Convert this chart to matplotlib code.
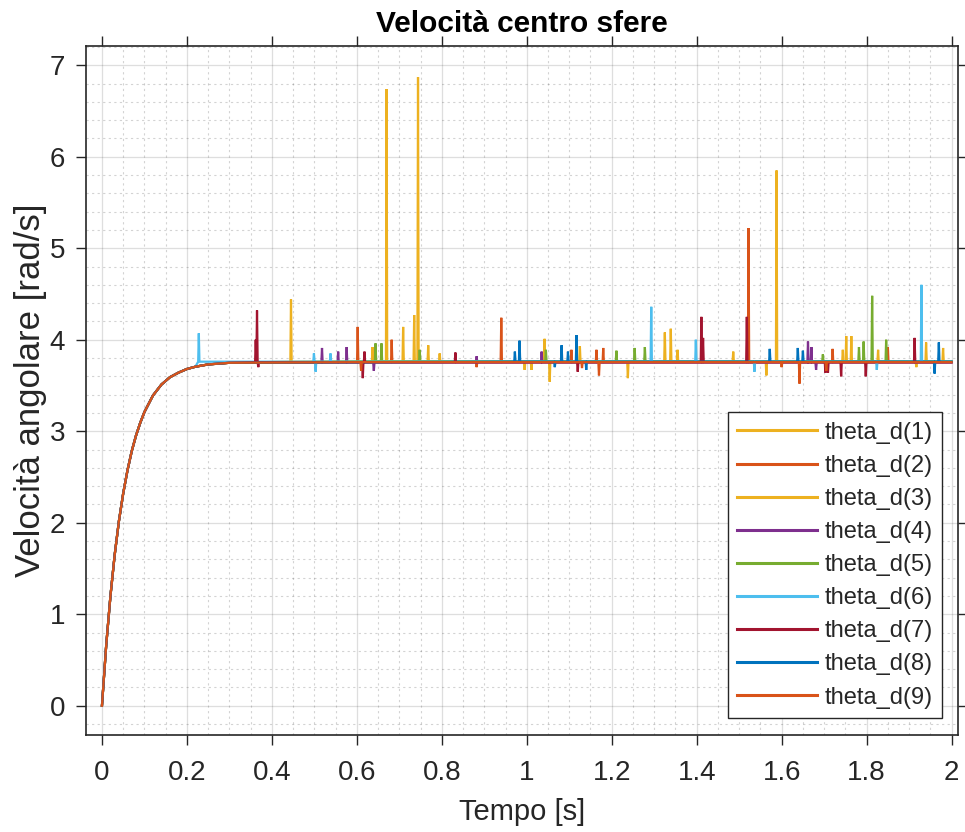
import matplotlib
matplotlib.use("Agg")
import matplotlib.pyplot as plt
from matplotlib.ticker import MultipleLocator

plt.rcParams['font.family'] = ['Liberation Sans', 'DejaVu Sans']

# Start-up transient shared by every sphere (time [s], angular velocity [rad/s])
rise_t = [0.0, 0.01, 0.02, 0.03, 0.04, 0.05, 0.06, 0.07, 0.08, 0.09, 0.10,
          0.12, 0.14, 0.16, 0.18, 0.20, 0.22, 0.25, 0.30]
rise_v = [0.0, 0.66, 1.20, 1.65, 2.02, 2.32, 2.57, 2.78, 2.95, 3.09, 3.21,
          3.39, 3.51, 3.59, 3.64, 3.68, 3.705, 3.73, 3.748]
t_end = 2.0

# Steady-state level of each sphere
plateau = [3.760, 3.755, 3.760, 3.750, 3.765, 3.760, 3.755, 3.760, 3.755]

# Isolated numerical spikes of each sphere: times and peak values
s1_t = [0.637, 0.670, 0.709, 0.795, 0.995, 1.054, 1.325, 1.486, 1.588, 1.744, 1.764, 1.917, 1.980]
s1_v = [3.92, 6.74, 4.14, 3.85, 3.67, 3.54, 4.08, 3.87, 5.85, 3.89, 4.04, 3.70, 3.91]
s2_t = [0.602, 0.682, 0.882, 0.940, 1.105, 1.164, 1.180, 1.522, 1.720, 1.850]
s2_v = [4.14, 4.00, 3.70, 4.24, 3.89, 3.89, 3.91, 5.22, 3.90, 3.92]
s3_t = [0.445, 0.735, 0.744, 0.768, 1.011, 1.042, 1.125, 1.238, 1.339, 1.355, 1.564, 1.752, 1.827, 1.940]
s3_v = [4.44, 4.27, 6.87, 3.94, 3.67, 4.01, 3.93, 3.58, 4.12, 3.89, 3.61, 4.04, 3.89, 3.97]
s4_t = [0.518, 0.556, 0.576, 0.640, 0.882, 1.035, 1.662, 1.670, 1.681]
s4_v = [3.91, 3.87, 3.92, 3.66, 3.82, 3.87, 3.98, 3.92, 3.67]
s5_t = [0.644, 0.658, 0.748, 1.045, 1.211, 1.254, 1.278, 1.697, 1.782, 1.793, 1.813, 1.846]
s5_v = [3.96, 3.96, 3.89, 3.89, 3.88, 3.91, 3.92, 3.84, 3.92, 3.98, 4.48, 4.00]
s6_t = [0.228, 0.499, 0.503, 0.538, 1.293, 1.398, 1.536, 1.824, 1.929]
s6_v = [4.07, 3.85, 3.65, 3.85, 4.36, 4.00, 3.65, 3.67, 4.60]
s7_t = [0.362, 0.365, 0.368, 0.614, 0.618, 0.832, 1.120, 1.411, 1.415, 1.518, 1.703, 1.709, 1.740, 1.798, 1.913]
s7_v = [4.00, 4.32, 3.70, 3.58, 3.87, 3.86, 3.65, 4.25, 4.02, 4.25, 3.64, 3.64, 3.60, 3.60, 4.02]
s8_t = [0.972, 0.983, 1.066, 1.082, 1.097, 1.117, 1.140, 1.572, 1.638, 1.650, 1.960, 1.970]
s8_v = [3.87, 3.99, 3.70, 3.94, 3.87, 4.05, 3.67, 3.90, 3.91, 3.88, 3.63, 3.97]
s9_t = [0.610, 1.130, 1.170, 1.600, 1.642, 1.705]
s9_v = [3.66, 3.69, 3.61, 3.70, 3.52, 3.66]

labels = ['theta_d(1)', 'theta_d(2)', 'theta_d(3)', 'theta_d(4)', 'theta_d(5)',
          'theta_d(6)', 'theta_d(7)', 'theta_d(8)', 'theta_d(9)']
colors = ['#EDB120', '#D95319', '#EDB120', '#7E2F8E', '#77AC30',
          '#4DBEEE', '#A2142F', '#0072BD', '#D95319']
xtick_vals = [0, 0.2, 0.4, 0.6, 0.8, 1, 1.2, 1.4, 1.6, 1.8, 2]
xtick_text = ['0', '0.2', '0.4', '0.6', '0.8', '1', '1.2', '1.4', '1.6', '1.8', '2']

spike_t = [s1_t, s2_t, s3_t, s4_t, s5_t, s6_t, s7_t, s8_t, s9_t]
spike_v = [s1_v, s2_v, s3_v, s4_v, s5_v, s6_v, s7_v, s8_v, s9_v]


def build_series(level, times, values, half=0.0015):
    """Transient followed by the plateau, with one-sample spikes."""
    t = list(rise_t)
    v = list(rise_v)
    for ts, vs in sorted(zip(times, values)):
        while t and t[-1] >= ts - half:
            t.pop()
            v.pop()
        t += [ts - half, ts, ts + half]
        v += [level, vs, level]
    t.append(t_end)
    v.append(level)
    return t, v


fig = plt.figure(figsize=(9.65, 8.32), dpi=100)
fig.patch.set_facecolor('white')
ax = fig.add_axes([0.0891, 0.1166, 0.9036, 0.8281])

for k in range(9):
    tt, vv = build_series(plateau[k], spike_t[k], spike_v[k])
    ax.plot(tt, vv, color=colors[k], lw=1.6, label=labels[k],
            solid_joinstyle='miter')

ax.set_xlim(-0.0376, 2.015)
ax.set_ylim(-0.32, 7.21)
ax.xaxis.set_minor_locator(MultipleLocator(0.05))
ax.yaxis.set_major_locator(MultipleLocator(1))
ax.yaxis.set_minor_locator(MultipleLocator(0.2))
ax.set_xticks(xtick_vals)
ax.set_xticklabels(xtick_text)

ax.grid(which='major', color='#262626', alpha=0.15, lw=0.9)
ax.grid(which='minor', color='#262626', alpha=0.2, lw=0.8, linestyle=(0, (2, 3)))
ax.set_axisbelow(True)

ax.tick_params(which='major', direction='out', length=7, width=1.0,
               color='#262626', labelcolor='#262626', labelsize=20,
               top=True, right=True)
ax.tick_params(axis='x', which='major', pad=11)
ax.tick_params(axis='y', which='major', pad=8)
ax.tick_params(which='minor', length=0, top=True, right=True)
for sp in ax.spines.values():
    sp.set_color('#262626')
    sp.set_linewidth(1.2)

ax.set_title('Velocità centro sfere', fontsize=21.5, fontweight='bold',
             color='black', pad=10)
ax.set_xlabel('Tempo [s]', fontsize=21, color='#262626', labelpad=9)
ax.set_ylabel('Velocità angolare [rad/s]', fontsize=25, color='#262626', labelpad=2)

leg = ax.legend(loc='lower right', bbox_to_anchor=(0.982, 0.0247),
                borderaxespad=0, fontsize=17, frameon=True, fancybox=False,
                framealpha=1, edgecolor='#262626', handlelength=3.4,
                handletextpad=0.3, labelspacing=0.47, borderpad=0.4)
leg.get_frame().set_linewidth(1.0)
for line in leg.get_lines():
    line.set_linewidth(2.2)
for txt in leg.get_texts():
    txt.set_color('#262626')

fig.savefig('out.png', dpi=100, facecolor='white')
